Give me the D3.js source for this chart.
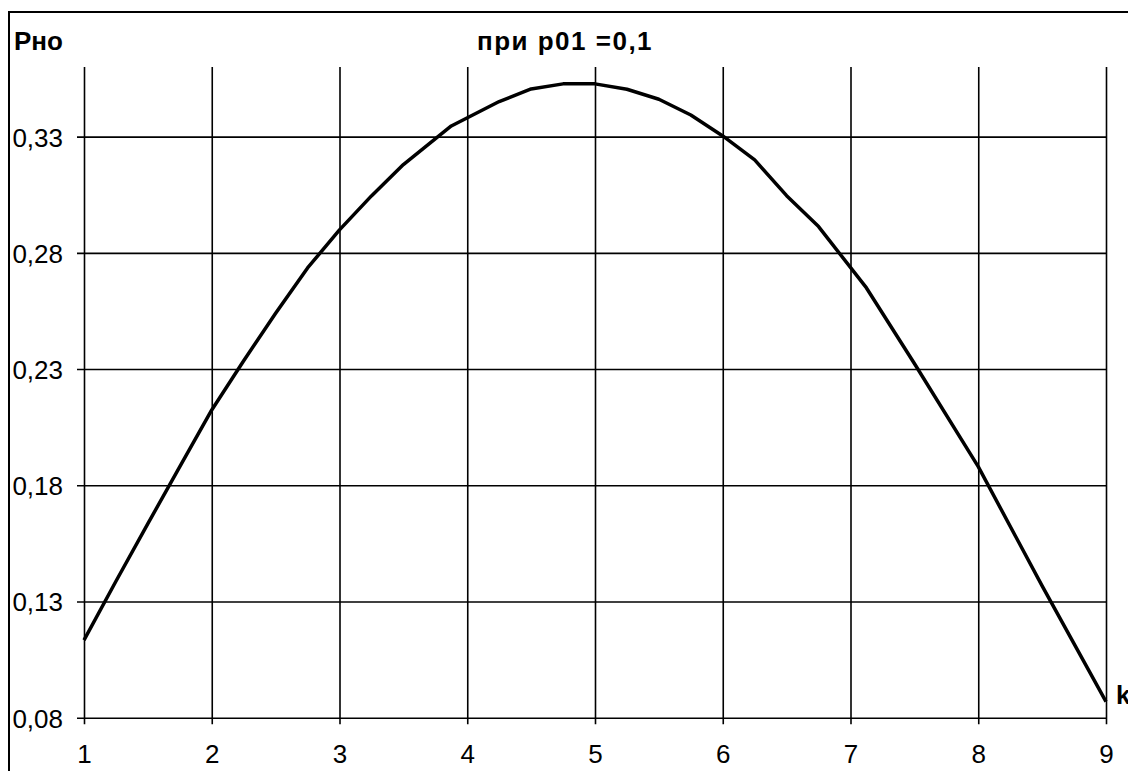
<!DOCTYPE html>
<html>
<head>
<meta charset="utf-8">
<script src="https://cdn.jsdelivr.net/npm/d3@7"></script>
<style>
  html, body { margin: 0; padding: 0; background: #fff; }
  svg { display: block; }
  text { font-family: Arial, "Liberation Sans", sans-serif; fill: #000; }
</style>
</head>
<body>
<script>
// Rho as a function of k, for p01 = 0.1
const kValues   = [1, 1.25, 1.5, 1.75, 2, 2.25, 2.5, 2.75, 3, 3.25, 3.5, 3.875, 4.25, 4.5, 4.75, 5, 5.25, 5.5, 5.75, 6, 6.25, 6.5, 6.75, 7.125, 7.5, 8, 8.5, 9];
const rhoValues = [0.1134, 0.1387, 0.1635, 0.1880, 0.2124, 0.2336, 0.2540, 0.2735, 0.2899, 0.3045, 0.3180, 0.3346, 0.3451, 0.3505, 0.3527, 0.3527, 0.3504, 0.3461, 0.3393, 0.3303, 0.3200, 0.3046, 0.2913, 0.2649, 0.2324, 0.1880, 0.1367, 0.0869];
const xTicks = [1, 2, 3, 4, 5, 6, 7, 8, 9];
const yTicks = [0.08, 0.13, 0.18, 0.23, 0.28, 0.33];
const yLabel = "Рно";
const xLabel = "k";
const title  = "при р01 =0,1";

const W = 1128, H = 771;
const svg = d3.select("body").append("svg").attr("width", W).attr("height", H);

// outer chart frame (runs past the right and bottom edges)
svg.append("rect")
  .attr("x", 9).attr("y", 12).attr("width", W + 20).attr("height", H + 20)
  .attr("fill", "none").attr("stroke", "#000").attr("stroke-width", 2);

const x = d3.scaleLinear().domain([1, 9]).range([84, 1106]);
const y = d3.scaleLinear().domain([0.08, 0.36]).range([717.7, 66.9]);

const fmt = d => d3.format(".2f")(d).replace(".", ",");

// horizontal grid + left ticks
const yAxis = d3.axisLeft(y).tickValues(yTicks).tickFormat(fmt)
  .tickSize(-(x(9) - x(1))).tickSizeOuter(0);
const gy = svg.append("g").attr("transform", `translate(${x(1)},0)`).call(yAxis);
gy.select(".domain").remove();
gy.selectAll(".tick line").attr("stroke", "#000").attr("stroke-width", 1.6).attr("x1", -7);
gy.selectAll(".tick text").attr("font-size", 26).attr("x", -21).attr("text-anchor", "end")
  .attr("dy", "0.36em");

// vertical grid + bottom ticks
const xAxis = d3.axisBottom(x).tickValues(xTicks).tickFormat(d3.format("d"))
  .tickSize(6).tickSizeOuter(0);
const gx = svg.append("g").attr("transform", `translate(0,${y(0.08)})`).call(xAxis);
gx.select(".domain").remove();
gx.selectAll(".tick line").attr("stroke", "#000").attr("stroke-width", 1.6)
  .attr("y1", y(0.36) - y(0.08)).attr("y2", 6.5);
gx.selectAll(".tick text").attr("font-size", 26).attr("y", 27).attr("dy", "0.71em");

// the curve
const pts = kValues.map((k, i) => [k, rhoValues[i]]);
svg.append("path")
  .datum(pts)
  .attr("fill", "none").attr("stroke", "#000").attr("stroke-width", 3.5)
  .attr("stroke-linejoin", "round")
  .attr("d", d3.line().x(d => x(d[0])).y(d => y(d[1])));

// labels
svg.append("text").attr("x", 14).attr("y", 50).attr("font-size", 26).attr("font-weight", "bold").text(yLabel);
svg.append("text").attr("x", 565).attr("y", 50).attr("text-anchor", "middle")
  .attr("font-size", 26).attr("font-weight", "bold").attr("letter-spacing", 1.5).text(title);
svg.append("text").attr("x", 1116).attr("y", 704).attr("font-size", 26).attr("font-weight", "bold").text(xLabel);
</script>
</body>
</html>
